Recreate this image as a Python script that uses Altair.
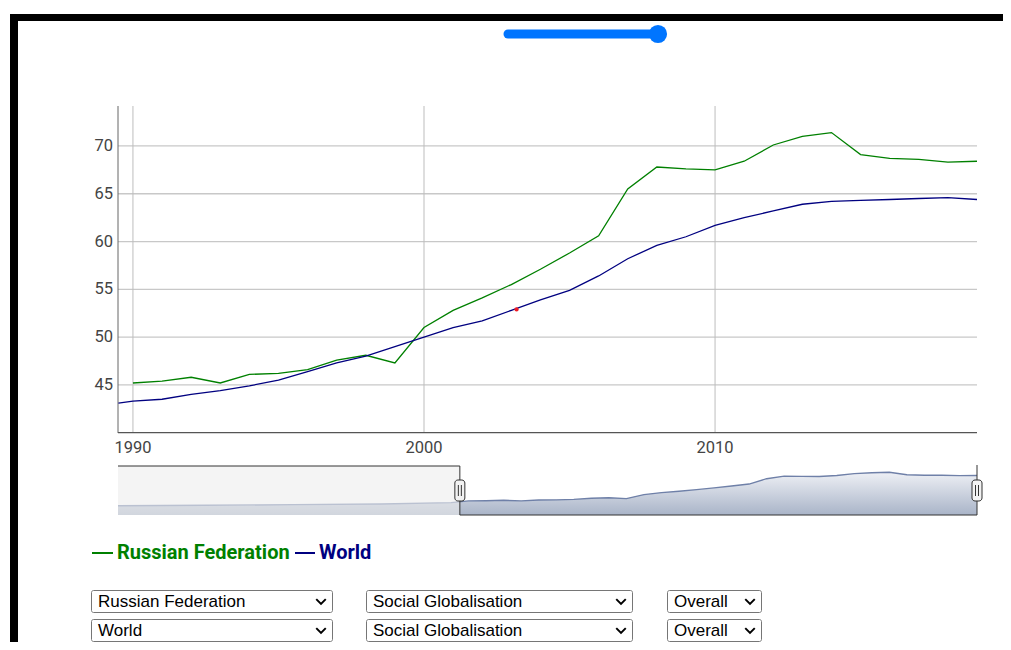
import altair as alt
import pandas as pd

# ---------------- data ----------------
years = list(range(1990, 2020))
russia = [45.2, 45.4, 45.8, 45.2, 46.1, 46.2, 46.6, 47.6, 48.1, 47.3,
          51.0, 52.8, 54.1, 55.5, 57.1, 58.8, 60.6, 65.5, 67.8, 67.6,
          67.5, 68.4, 70.1, 71.0, 71.4, 69.1, 68.7, 68.6, 68.3, 68.4]
world_years = [1989.5] + years
world = [43.1, 43.3, 43.5, 44.0, 44.4, 44.9, 45.5, 46.4, 47.3, 48.0, 49.0,
         50.0, 51.0, 51.7, 52.8, 53.9, 54.9, 56.4, 58.2, 59.6, 60.5,
         61.7, 62.5, 63.2, 63.9, 64.2, 64.3, 64.4, 64.5, 64.6, 64.4]
nav_years = [1970, 1975, 1980, 1985, 1989] + years
nav_values = [40.8, 41.2, 41.8, 42.4, 43.6] + russia
nav_floor = 32.34
marker_year = [2003.18]
marker_value = [52.9]
y_ticks = [45, 50, 55, 60, 65, 70]
x_ticks = [1990, 2000, 2010]
series_names = ["Russian Federation", "World"]
series_colors = ["green", "navy"]
select_rows = [["Russian Federation", "Social Globalisation", "Overall"],
               ["World", "Social Globalisation", "Overall"]]
nav_start = [1970]
selected_range = [1989.5, 2019]

# ---------------- layout helpers ----------------
W, H = 995, 634


def P(v):
    return v - 8  # page pixel -> chart pixel


XM = alt.Scale(domain=[1989.5, 2019.0], range=[P(118.4), P(977)], zero=False, nice=False)
YM = alt.Scale(domain=[40.0, 74.18], range=[P(432.7), P(106)], zero=False, nice=False)
XN = alt.Scale(domain=[1970, 2019], range=[P(118), P(977)], zero=False, nice=False)
YN = alt.Scale(domain=[nav_floor, 77.1], range=[P(515), P(466)], zero=False, nice=False)

dummy = pd.DataFrame({"k": [0]})
layers = []

# frame and slider
layers.append(alt.Chart(dummy).mark_rect(color="black").encode(
    x=alt.value(P(10)), x2=alt.value(W), y=alt.value(P(14)), y2=alt.value(P(21))))
layers.append(alt.Chart(dummy).mark_rect(color="black").encode(
    x=alt.value(P(10)), x2=alt.value(P(18)), y=alt.value(P(14)), y2=alt.value(H)))
layers.append(alt.Chart(dummy).mark_rule(color="#0075ff", strokeWidth=9, strokeCap="round").encode(
    x=alt.value(P(508)), x2=alt.value(P(656)), y=alt.value(P(34))))
layers.append(alt.Chart(dummy).mark_point(filled=True, color="#0075ff", opacity=1, size=330, shape="circle").encode(
    x=alt.value(P(658)), y=alt.value(P(34))))

# main chart grid
df_yt = pd.DataFrame({"v": y_ticks, "lab": [str(v) for v in y_ticks]})
df_xt = pd.DataFrame({"t": x_ticks, "lab": [str(t) for t in x_ticks]})
layers.append(alt.Chart(df_yt).mark_rule(color="#c8c8c8", strokeWidth=1.3).encode(
    y=alt.Y("v:Q", scale=YM, axis=None), x=alt.value(P(118)), x2=alt.value(P(977))))
layers.append(alt.Chart(df_xt).mark_rule(color="#bdbdbd", strokeWidth=1).encode(
    x=alt.X("t:Q", scale=XM, axis=None), y=alt.value(P(106)), y2=alt.value(P(432.7))))
layers.append(alt.Chart(dummy).mark_rule(color="#666666", strokeWidth=1).encode(
    x=alt.value(P(118)), y=alt.value(P(106)), y2=alt.value(P(433))))
layers.append(alt.Chart(dummy).mark_rule(color="#555555", strokeWidth=1.3).encode(
    x=alt.value(P(118)), x2=alt.value(P(977)), y=alt.value(P(432.7))))
layers.append(alt.Chart(df_yt).mark_text(align="right", baseline="middle", font="Roboto",
                                         fontSize=16.5, color="#444444").encode(
    y=alt.Y("v:Q", scale=YM, axis=None), x=alt.value(P(113)), text="lab:N"))
layers.append(alt.Chart(df_xt).mark_text(align="center", baseline="middle", font="Roboto",
                                         fontSize=16.5, color="#444444").encode(
    x=alt.X("t:Q", scale=XM, axis=None), y=alt.value(P(447.5)), text="lab:N"))

# series
df_r = pd.DataFrame({"year": years, "value": russia})
df_w = pd.DataFrame({"year": world_years, "value": world})
layers.append(alt.Chart(df_r).mark_line(color=series_colors[0], strokeWidth=1.3).encode(
    x=alt.X("year:Q", scale=XM, axis=None), y=alt.Y("value:Q", scale=YM, axis=None)))
layers.append(alt.Chart(df_w).mark_line(color=series_colors[1], strokeWidth=1.3).encode(
    x=alt.X("year:Q", scale=XM, axis=None), y=alt.Y("value:Q", scale=YM, axis=None)))
df_m = pd.DataFrame({"year": marker_year, "value": marker_value})
layers.append(alt.Chart(df_m).mark_point(filled=True, color="#ee1c24", opacity=1, size=18).encode(
    x=alt.X("year:Q", scale=XM, axis=None), y=alt.Y("value:Q", scale=YM, axis=None)))

# navigator
df_n = pd.DataFrame({"year": nav_years, "value": nav_values,
                     "base": [nav_floor] * len(nav_years)})
grad = alt.Gradient(gradient="linear",
                    stops=[alt.GradientStop(color="#eef0f5", offset=0),
                           alt.GradientStop(color="#a9b4c8", offset=1)],
                    x1=0, x2=0, y1=0, y2=1)
layers.append(alt.Chart(df_n).mark_area(color=grad).encode(
    x=alt.X("year:Q", scale=XN, axis=None), y=alt.Y("value:Q", scale=YN, axis=None),
    y2="base:Q"))
layers.append(alt.Chart(df_n).mark_line(color="#6f80a8", strokeWidth=1.4).encode(
    x=alt.X("year:Q", scale=XN, axis=None), y=alt.Y("value:Q", scale=YN, axis=None)))
df_sel = pd.DataFrame({"a": nav_start, "b": [selected_range[0]], "c": [selected_range[1]]})
layers.append(alt.Chart(df_sel).mark_rect(color="#ececec", opacity=0.6).encode(
    x=alt.X("a:Q", scale=XN, axis=None), x2="b:Q", y=alt.value(P(466)), y2=alt.value(P(515))))
layers.append(alt.Chart(df_sel).mark_rule(color="#333333", strokeWidth=1).encode(
    x=alt.X("a:Q", scale=XN, axis=None), x2="b:Q", y=alt.value(P(466))))
layers.append(alt.Chart(df_sel).mark_rule(color="#333333", strokeWidth=1).encode(
    x=alt.X("b:Q", scale=XN, axis=None), y=alt.value(P(466)), y2=alt.value(P(515))))
layers.append(alt.Chart(df_sel).mark_rule(color="#333333", strokeWidth=1).encode(
    x=alt.X("b:Q", scale=XN, axis=None), x2="c:Q", y=alt.value(P(515))))
layers.append(alt.Chart(df_sel).mark_rule(color="#333333", strokeWidth=1).encode(
    x=alt.X("c:Q", scale=XN, axis=None), y=alt.value(P(465)), y2=alt.value(P(515))))
df_h = pd.DataFrame({"h": selected_range})
layers.append(alt.Chart(df_h).mark_rect(fill="#f2f2f2", stroke="#333333", strokeWidth=1,
                                        cornerRadius=3, xOffset=-5, x2Offset=5).encode(
    x=alt.X("h:Q", scale=XN, axis=None), x2="h:Q", y=alt.value(P(480)), y2=alt.value(P(501))))
for off in (-1.5, 1.5):
    layers.append(alt.Chart(df_h).mark_rule(color="#333333", strokeWidth=1, xOffset=off).encode(
        x=alt.X("h:Q", scale=XN, axis=None), y=alt.value(P(485)), y2=alt.value(P(496))))

# legend: dash + label per series
legend_dash = [(92, 113), (295, 315)]
legend_text_x = [117, 319]
for name, col, (d0, d1), tx in zip(series_names, series_colors, legend_dash, legend_text_x):
    layers.append(alt.Chart(dummy).mark_rule(color=col, strokeWidth=2).encode(
        x=alt.value(P(d0)), x2=alt.value(P(d1)), y=alt.value(P(553))))
    layers.append(alt.Chart(dummy).mark_text(text=name, align="left", baseline="middle",
                                             font="Roboto", fontSize=20, fontWeight="bold",
                                             color=col).encode(
        x=alt.value(P(tx)), y=alt.value(P(553))))

# dropdowns
box_x = [(91, 332), (366, 632), (667, 761)]
box_y = [(590, 612), (619, 641)]
chev = "M-1,-0.5L0,0.5L1,-0.5"
for row, (y0, y1) in zip(select_rows, box_y):
    for label, (x0, x1) in zip(row, box_x):
        layers.append(alt.Chart(dummy).mark_rect(fill="white", stroke="#767676", strokeWidth=1,
                                                 cornerRadius=2).encode(
            x=alt.value(P(x0) + 0.5), x2=alt.value(P(x1) + 0.5),
            y=alt.value(P(y0) + 0.5), y2=alt.value(P(y1) + 0.5)))
        layers.append(alt.Chart(dummy).mark_text(text=label, align="left", baseline="middle",
                                                 font="Liberation Sans", fontSize=17,
                                                 color="black").encode(
            x=alt.value(P(x0 + 7)), y=alt.value(P((y0 + y1) / 2 + 1))))
        layers.append(alt.Chart(dummy).mark_point(shape=chev, filled=False, stroke="black",
                                                  strokeWidth=2, size=90, opacity=1).encode(
            x=alt.value(P(x1 - 11)), y=alt.value(P((y0 + y1) / 2 + 0.5))))

chart = alt.layer(*layers).resolve_scale(x="independent", y="independent").properties(
    width=W, height=H, padding=0, autosize="none", background="white"
).configure_view(stroke=None)

chart.save("out.html", embed_options={"renderer": "svg", "actions": False})
